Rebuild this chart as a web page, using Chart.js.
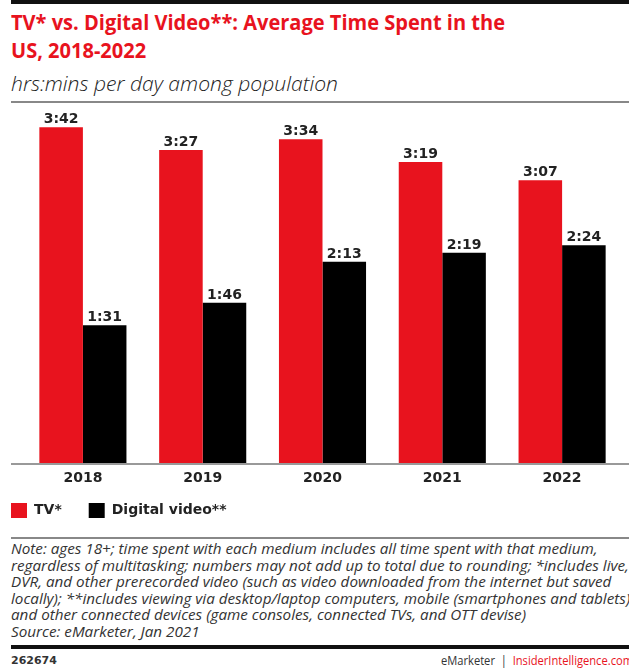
<!DOCTYPE html>
<html><head><meta charset="utf-8">
<script src="https://cdn.jsdelivr.net/npm/chart.js@4.4.1/dist/chart.umd.min.js"></script>
<style>
html,body{margin:0;padding:0;background:#fff;}
body{width:629px;height:668px;position:relative;overflow:hidden;font-family:"Open Sans",sans-serif;}
.abs{position:absolute;white-space:nowrap;transform-origin:0 0;}
.rule{position:absolute;left:11px;width:618px;}
#title{left:11px;top:8px;font-weight:700;font-size:21px;line-height:28px;color:#e8131e;}
#subtitle{left:11px;top:69px;font-style:italic;font-weight:300;font-size:21px;line-height:28px;color:#222;}
#notes{left:11px;top:541px;font-style:italic;font-size:14px;line-height:16.6px;color:#333;}
#fid{left:11px;top:653px;font-weight:700;font-size:11px;line-height:15px;color:#333;font-family:"DejaVu Sans",sans-serif;}
#fsrc{left:441px;top:652px;font-size:13px;line-height:17px;color:#333;}
#fsrc .r{color:#e8131e;}
canvas{position:absolute;left:0;top:103px;}
</style>
</head><body>
<div class="rule" style="top:0;height:4px;background:#111;"></div>
<div id="title" class="abs"><span id="t1">TV* vs. Digital Video**: Average Time Spent in the</span><br>US, 2018-2022</div>
<div id="subtitle" class="abs"><span id="st">hrs:mins per day among population</span></div>
<div class="rule" style="top:101px;height:1.5px;background:#888;"></div>
<canvas id="c" width="629" height="434"></canvas>
<div class="rule" style="top:537px;height:1.5px;background:#888;"></div>
<div id="notes" class="abs">Note: ages 18+; time spent with each medium includes all time spent with that medium,<br>regardless of multitasking; numbers may not add up to total due to rounding; *includes live,<br>DVR, and other prerecorded video (such as video downloaded from the internet but saved<br><span id="n4">locally); **includes viewing via desktop/laptop computers, mobile (smartphones and tablets),</span><br>and other connected devices (game consoles, connected TVs, and OTT devise)<br>Source: eMarketer, Jan 2021</div>
<div class="rule" style="top:645px;height:4px;background:#111;"></div>
<div id="fid" class="abs">262674</div>
<div id="fsrc" class="abs"><span id="fs">eMarketer&nbsp;&nbsp;|&nbsp;&nbsp;<span class="r">InsiderIntelligence.com</span></span></div>
<script>
// ---- data ----
const categories = ['2018', '2019', '2020', '2021', '2022'];
const seriesNames = ['TV*', 'Digital video**'];
const tvMinutes = [222, 207, 214, 199, 187];
const digitalMinutes = [91, 106, 133, 139, 144];

const RED = '#e8131e';
const BLACK = '#000000';

function fmt(m) { return Math.floor(m / 60) + ':' + String(m % 60).padStart(2, '0'); }

function fit(blockId, spanId, target) {
  const b = document.getElementById(blockId), s = document.getElementById(spanId);
  const w = s.getBoundingClientRect().width;
  if (w > 0) b.style.transform = 'scaleX(' + (target / w) + ')';
}

const LEGEND_PAD = 27;
const LEGEND_BOX_TOP = 400; // canvas y of legend swatches

const valueLabels = {
  id: 'valueLabels',
  afterDatasetsDraw(chart) {
    const c = chart.ctx;
    c.save();
    c.font = 'bold 14px "DejaVu Sans"';
    c.fillStyle = '#222';
    c.textAlign = 'center';
    c.textBaseline = 'alphabetic';
    chart.data.datasets.forEach((ds, i) => {
      chart.getDatasetMeta(i).data.forEach((el, j) => {
        c.fillText(fmt(ds.data[j]), el.x, el.y - 4);
      });
    });
    c.restore();
  }
};
const axisLine = {
  id: 'axisLine',
  afterDatasetsDraw(chart) {
    const c = chart.ctx;
    c.save();
    c.fillStyle = '#999';
    c.fillRect(11, chart.chartArea.bottom, chart.width - 11, 2);
    c.restore();
  }
};
const legendPlace = {
  id: 'legendPlace',
  afterLayout(chart) {
    const lg = chart.legend;
    if (!lg) return;
    const d = LEGEND_BOX_TOP - (lg.top + LEGEND_PAD);
    lg.top += d; lg.bottom += d;
  }
};

function draw() {
  new Chart(document.getElementById('c'), {
    type: 'bar',
    data: {
      labels: categories,
      datasets: [
        { label: seriesNames[0], data: tvMinutes, backgroundColor: RED, borderWidth: 0, categoryPercentage: 0.727, barPercentage: 1 },
        { label: seriesNames[1], data: digitalMinutes, backgroundColor: BLACK, borderWidth: 0, categoryPercentage: 0.727, barPercentage: 1 }
      ]
    },
    options: {
      responsive: false,
      animation: false,
      devicePixelRatio: 1,
      layout: { padding: { left: -16, right: 7, top: 0, bottom: -4 } },
      scales: {
        x: {
          grid: { display: false, drawTicks: false },
          border: { display: false },
          ticks: { color: '#222', padding: 7, maxRotation: 0, font: { family: 'DejaVu Sans', weight: 'bold', size: 14 } },
          afterFit(s) { s.height = 26; }
        },
        y: {
          min: 0, max: 238,
          grid: { display: false, drawTicks: false },
          border: { display: false },
          ticks: { display: false },
          afterFit(s) { s.width = 39; }
        }
      },
      plugins: {
        legend: {
          position: 'bottom', align: 'start',
          labels: { boxWidth: 16, boxHeight: 15, padding: LEGEND_PAD, color: '#222', font: { family: 'DejaVu Sans', weight: 'bold', size: 14 } }
        },
        tooltip: { enabled: false }
      }
    },
    plugins: [valueLabels, axisLine, legendPlace]
  });
}

function fitAll() {
  fit('title', 't1', 494);
  fit('subtitle', 'st', 327);
  fit('notes', 'n4', 623);
  fit('fsrc', 'fs', 192);
}
(document.fonts && document.fonts.ready ? document.fonts.ready : Promise.resolve()).then(() => { fitAll(); draw(); });
</script>
</body></html>
